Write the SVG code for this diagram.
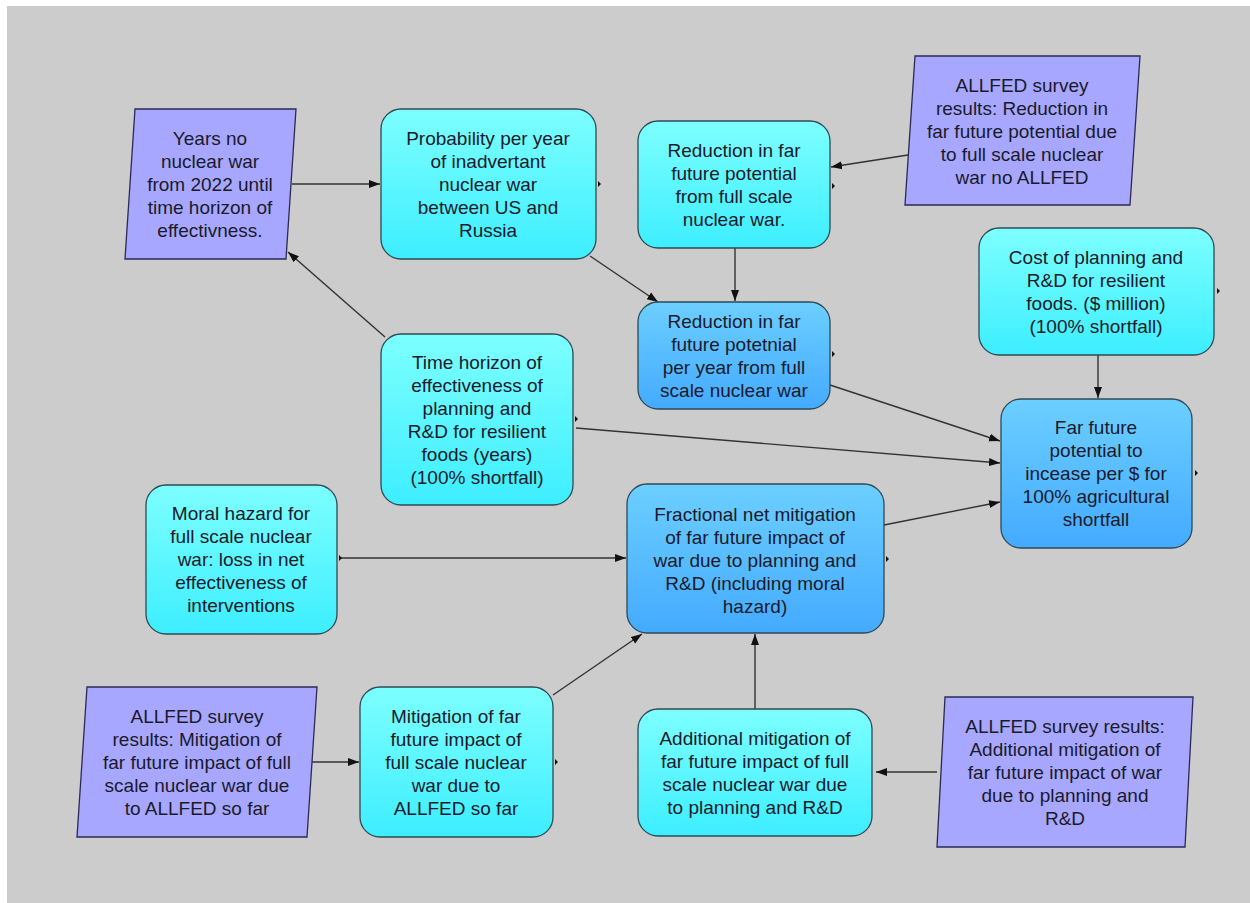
<svg xmlns="http://www.w3.org/2000/svg" width="1250" height="903" viewBox="0 0 1250 903">
<defs>
<linearGradient id="gc" x1="0" y1="0" x2="0" y2="1"><stop offset="0" stop-color="#7dffff"/><stop offset="1" stop-color="#3deeff"/></linearGradient>
<linearGradient id="gb" x1="0" y1="0" x2="0" y2="1"><stop offset="0" stop-color="#6ccfff"/><stop offset="1" stop-color="#44aaff"/></linearGradient>
<marker id="ah" markerWidth="12" markerHeight="10" refX="11" refY="5" orient="auto" markerUnits="userSpaceOnUse"><path d="M0,1 L11,5 L0,9 Z" fill="#111"/></marker>
<style>
.cy{fill:url(#gc);stroke:#2e4a55;stroke-width:1.3}
.bl{fill:url(#gb);stroke:#2e4a55;stroke-width:1.3}
.pu{fill:#a7a7ff;stroke:#2a2a55;stroke-width:1.3}
.t{font-family:"Liberation Sans",Arial,sans-serif;font-size:19px;fill:#1a1a2a;text-anchor:middle}
.c{stroke:#333;stroke-width:1.4;fill:none;marker-end:url(#ah)}
.p{fill:#111}
</style>
</defs>
<rect x="0" y="0" width="1250" height="903" fill="#ffffff"/>
<rect x="7" y="6" width="1243" height="897" fill="#cccccc"/>

<g id="connectors">
<line class="c" x1="292" y1="184" x2="380" y2="184"/>
<line class="c" x1="908" y1="155" x2="831" y2="167"/>
<line class="c" x1="735" y1="248" x2="735" y2="301"/>
<line class="c" x1="590" y1="256" x2="658" y2="302"/>
<line class="c" x1="385" y1="337" x2="288" y2="252"/>
<line class="c" x1="1098" y1="355" x2="1098" y2="398"/>
<line class="c" x1="830" y1="385" x2="1000" y2="441"/>
<line class="c" x1="576" y1="428" x2="1000" y2="463"/>
<line class="c" x1="884" y1="525" x2="1000" y2="502"/>
<line class="c" x1="341" y1="558" x2="626" y2="558"/>
<line class="c" x1="553" y1="695" x2="642" y2="634"/>
<line class="c" x1="755" y1="709" x2="755" y2="634"/>
<line class="c" x1="937" y1="772" x2="876" y2="772"/>
<line class="c" x1="307" y1="762" x2="359" y2="762"/>
</g>

<g id="years-no-war">
<polygon class="pu" points="135,109 296,109 286,259 125,259"/>
<text class="t"><tspan x="210" y="145">Years no</tspan><tspan x="210" y="168">nuclear war</tspan><tspan x="210" y="191">from 2022 until</tspan><tspan x="210" y="214">time horizon of</tspan><tspan x="210" y="237">effectivness.</tspan></text>
</g>

<g id="probability">
<rect class="cy" x="381" y="109" width="215" height="150" rx="20"/>
<text class="t"><tspan x="488" y="145">Probability per year</tspan><tspan x="488" y="168">of inadvertant</tspan><tspan x="488" y="191">nuclear war</tspan><tspan x="488" y="214">between US and</tspan><tspan x="488" y="237">Russia</tspan></text>
<polygon class="p" points="598,181 601,184 598,187"/>
</g>

<g id="reduction">
<rect class="cy" x="638" y="121" width="192" height="127" rx="20"/>
<text class="t"><tspan x="734" y="157">Reduction in far</tspan><tspan x="734" y="180">future potential</tspan><tspan x="734" y="203">from full scale</tspan><tspan x="734" y="226">nuclear war.</tspan></text>
<polygon class="p" points="832,183 835,186 832,189"/>
</g>

<g id="allfed-reduction">
<polygon class="pu" points="915,56 1140,56 1130,205 905,205"/>
<text class="t"><tspan x="1022" y="92">ALLFED survey</tspan><tspan x="1022" y="115">results: Reduction in</tspan><tspan x="1022" y="138">far future potential due</tspan><tspan x="1022" y="161">to full scale nuclear</tspan><tspan x="1022" y="184">war no ALLFED</tspan></text>
</g>

<g id="reduction-per-year">
<rect class="bl" x="638" y="302" width="192" height="107" rx="20"/>
<text class="t"><tspan x="734" y="328">Reduction in far</tspan><tspan x="734" y="351">future potetnial</tspan><tspan x="734" y="374">per year from full</tspan><tspan x="734" y="397">scale nuclear war</tspan></text>
<polygon class="p" points="832,351 835,354 832,357"/>
</g>

<g id="cost">
<rect class="cy" x="979" y="228" width="235" height="127" rx="20"/>
<text class="t"><tspan x="1096" y="264">Cost of planning and</tspan><tspan x="1096" y="287">R&amp;D for resilient</tspan><tspan x="1096" y="310">foods. ($ million)</tspan><tspan x="1096" y="333">(100% shortfall)</tspan></text>
<polygon class="p" points="1217,288 1220,291 1217,294"/>
</g>

<g id="far-future">
<rect class="bl" x="1001" y="399" width="191" height="149" rx="20"/>
<text class="t"><tspan x="1096" y="434">Far future</tspan><tspan x="1096" y="457">potential to</tspan><tspan x="1096" y="480">incease per $ for</tspan><tspan x="1096" y="503">100% agricultural</tspan><tspan x="1096" y="526">shortfall</tspan></text>
<polygon class="p" points="1195,470 1198,473 1195,476"/>
</g>

<g id="time-horizon">
<rect class="cy" x="381" y="334" width="192" height="171" rx="20"/>
<text class="t"><tspan x="477" y="369">Time horizon of</tspan><tspan x="477" y="392">effectiveness of</tspan><tspan x="477" y="415">planning and</tspan><tspan x="477" y="438">R&amp;D for resilient</tspan><tspan x="477" y="461">foods (years)</tspan><tspan x="477" y="484">(100% shortfall)</tspan></text>
<polygon class="p" points="575,416 578,419 575,422"/>
</g>

<g id="moral-hazard">
<rect class="cy" x="146" y="485" width="191" height="149" rx="20"/>
<text class="t"><tspan x="241" y="520">Moral hazard for</tspan><tspan x="241" y="543">full scale nuclear</tspan><tspan x="241" y="566">war: loss in net</tspan><tspan x="241" y="589">effectiveness of</tspan><tspan x="241" y="612">interventions</tspan></text>
<polygon class="p" points="339,555 342,558 339,561"/>
</g>

<g id="fractional">
<rect class="bl" x="627" y="484" width="257" height="149" rx="20"/>
<text class="t"><tspan x="755" y="521">Fractional net mitigation</tspan><tspan x="755" y="544">of far future impact of</tspan><tspan x="755" y="567">war due to planning and</tspan><tspan x="755" y="590">R&amp;D (including moral</tspan><tspan x="755" y="613">hazard)</tspan></text>
<polygon class="p" points="886,556 889,559 886,562"/>
</g>

<g id="allfed-mitigation">
<polygon class="pu" points="87,687 317,687 307,837 77,837"/>
<text class="t"><tspan x="197" y="723">ALLFED survey</tspan><tspan x="197" y="746">results: Mitigation of</tspan><tspan x="197" y="769">far future impact of full</tspan><tspan x="197" y="792">scale nuclear war due</tspan><tspan x="197" y="815">to ALLFED so far</tspan></text>
</g>

<g id="mitigation">
<rect class="cy" x="360" y="687" width="193" height="150" rx="20"/>
<text class="t"><tspan x="456" y="723">Mitigation of far</tspan><tspan x="456" y="746">future impact of</tspan><tspan x="456" y="769">full scale nuclear</tspan><tspan x="456" y="792">war due to</tspan><tspan x="456" y="815">ALLFED so far</tspan></text>
<polygon class="p" points="555,759 558,762 555,765"/>
</g>

<g id="additional">
<rect class="cy" x="638" y="709" width="234" height="127" rx="20"/>
<text class="t"><tspan x="755" y="745">Additional mitigation of</tspan><tspan x="755" y="768">far future impact of full</tspan><tspan x="755" y="791">scale nuclear war due</tspan><tspan x="755" y="814">to planning and R&amp;D</tspan></text>
</g>

<g id="allfed-additional">
<polygon class="pu" points="945,697 1193,697 1185,847 937,847"/>
<text class="t"><tspan x="1065" y="733">ALLFED survey results:</tspan><tspan x="1065" y="756">Additional mitigation of</tspan><tspan x="1065" y="779">far future impact of war</tspan><tspan x="1065" y="802">due to planning and</tspan><tspan x="1065" y="825">R&amp;D</tspan></text>
</g>
</svg>
